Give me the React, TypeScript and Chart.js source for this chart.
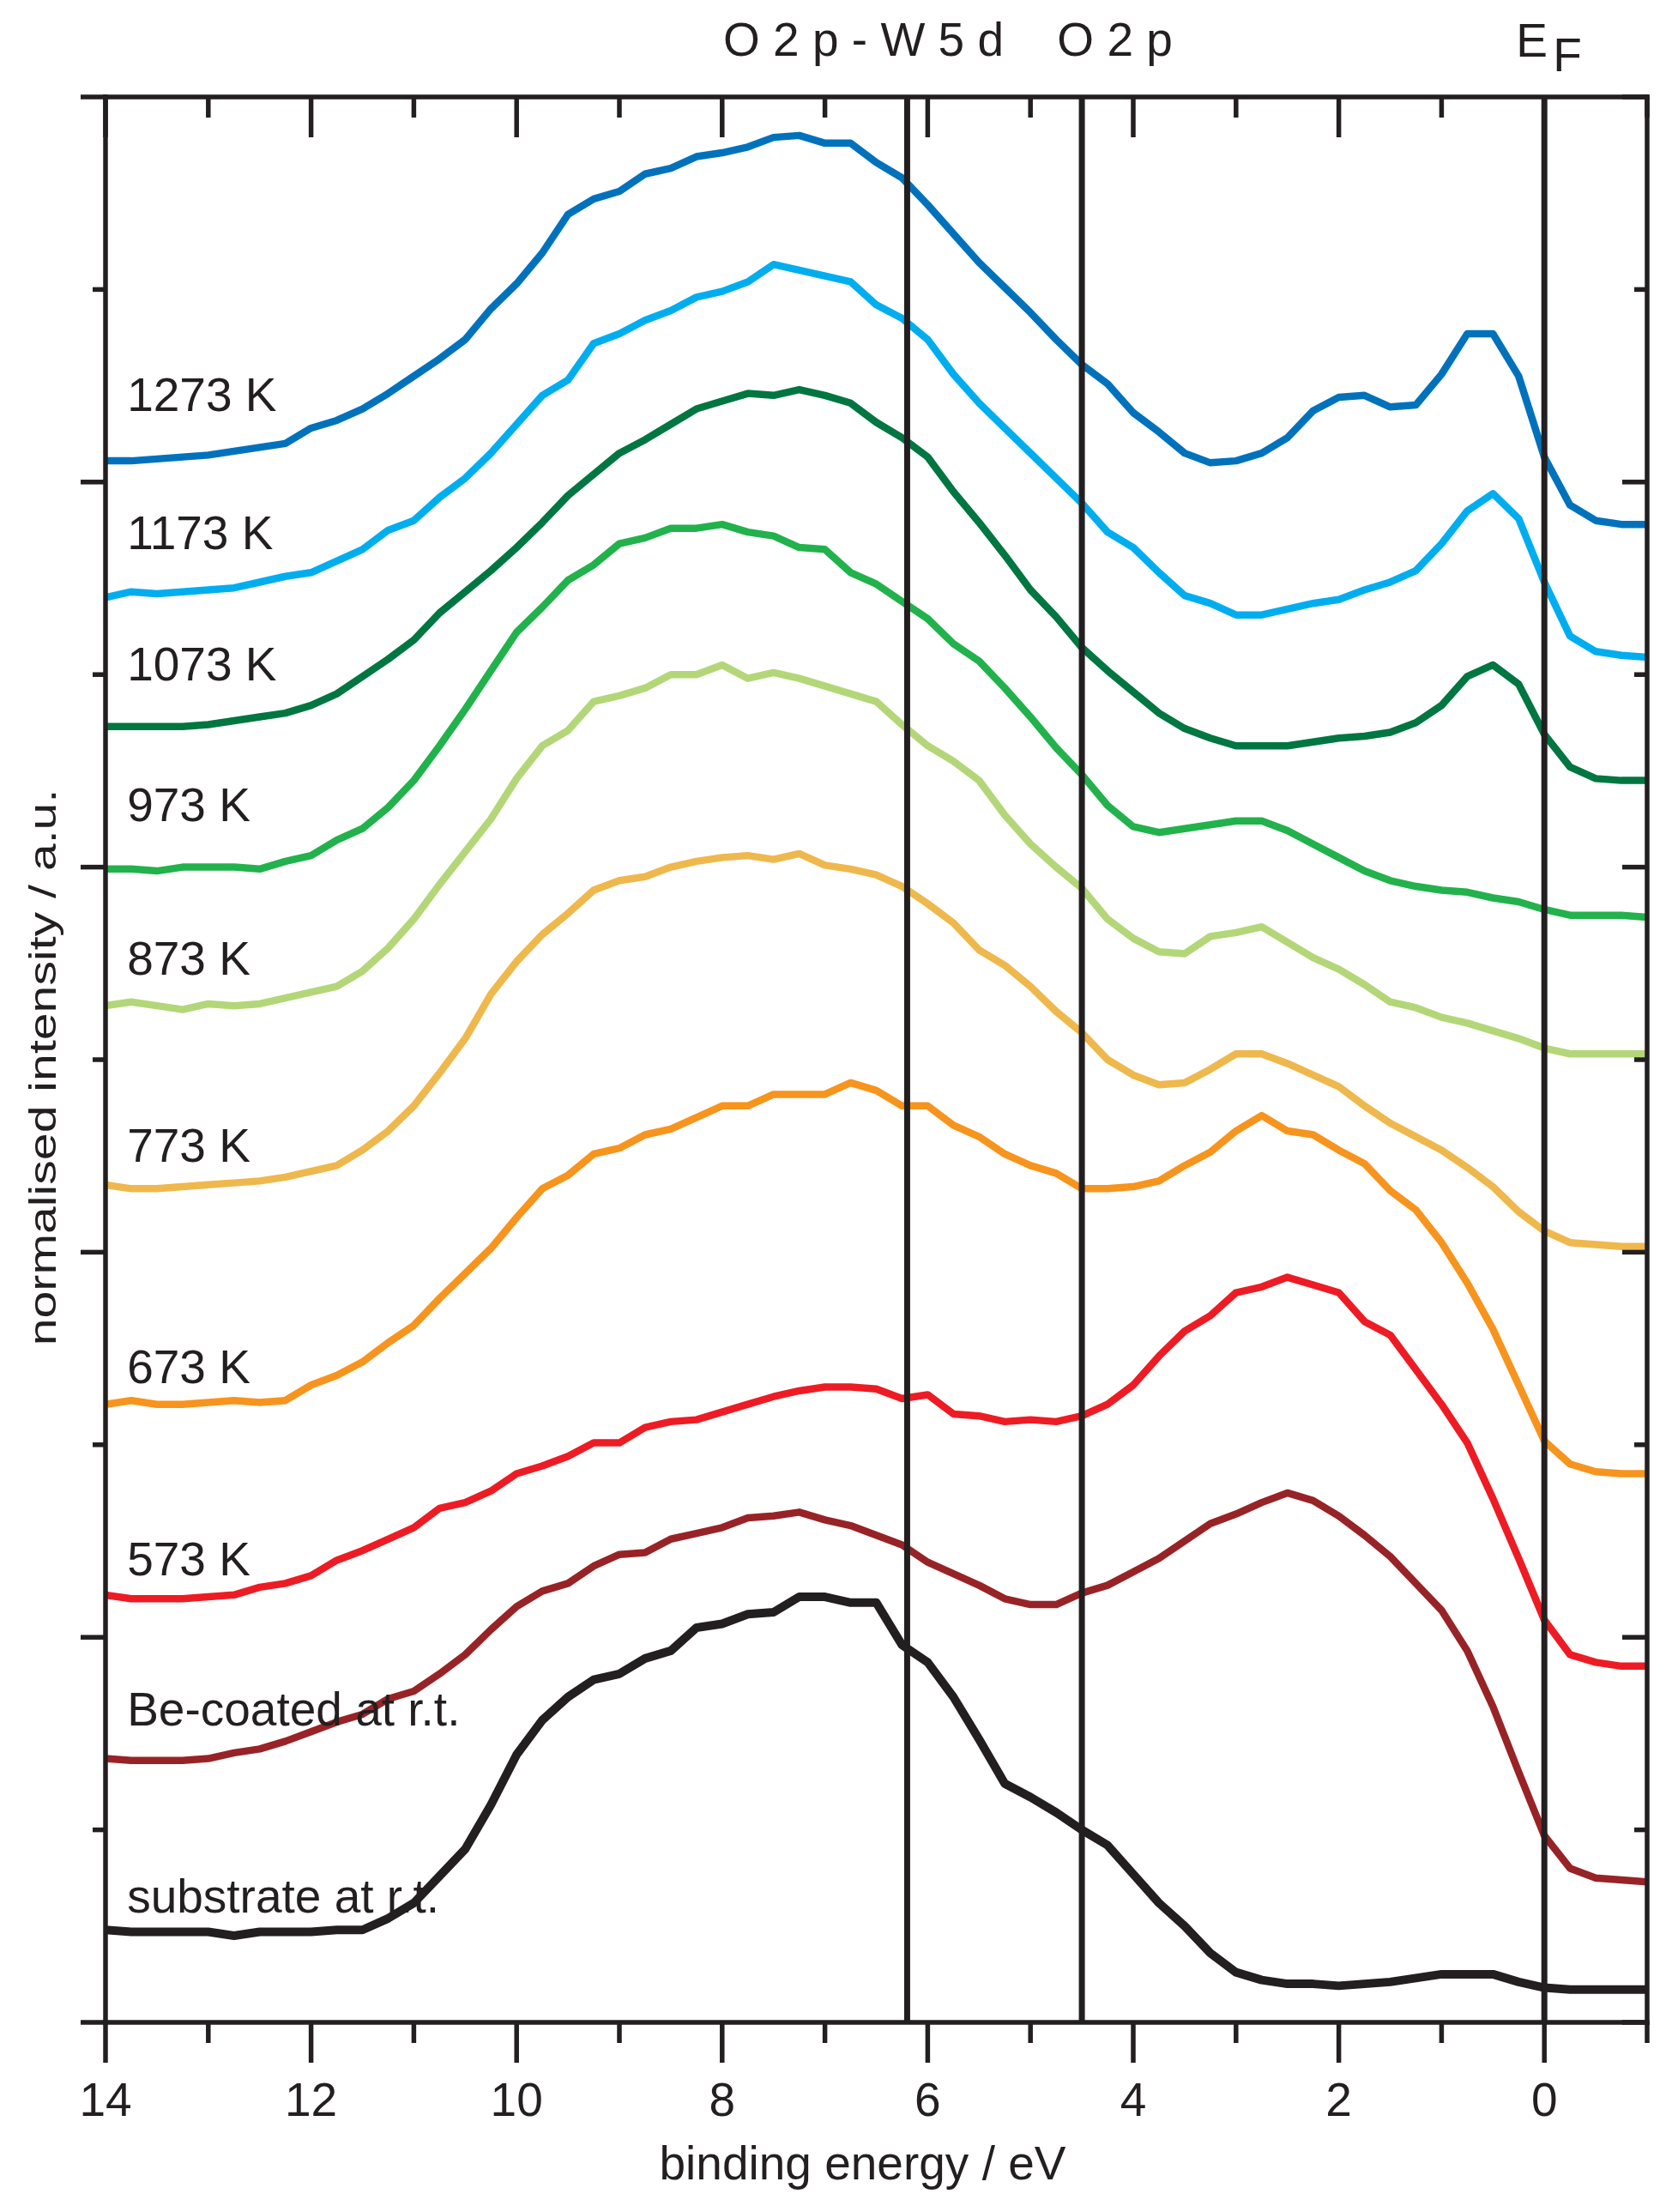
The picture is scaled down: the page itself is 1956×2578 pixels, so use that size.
import { useEffect, useRef } from 'react'
import { Chart, registerables } from 'chart.js'

Chart.register(...registerables)

const INK = '#231f20'
const FONT = '"Liberation Sans", Arial, sans-serif'

// binding energy grid (eV)
const energies = [
  14, 13.75, 13.5, 13.25, 13, 12.75, 12.5, 12.25, 12, 11.75, 11.5, 11.25, 11, 10.75, 10.5, 10.25,
  10, 9.75, 9.5, 9.25, 9, 8.75, 8.5, 8.25, 8, 7.75, 7.5, 7.25, 7, 6.75, 6.5, 6.25,
  6, 5.75, 5.5, 5.25, 5, 4.75, 4.5, 4.25, 4, 3.75, 3.5, 3.25, 3, 2.75, 2.5, 2.25,
  2, 1.75, 1.5, 1.25, 1, 0.75, 0.5, 0.25, 0, -0.25, -0.5, -0.75, -1,
]

// normalised intensity (offset), one array per spectrum
const k1273 = [
  8.11, 8.11, 8.12, 8.13, 8.14, 8.16, 8.18, 8.2, 8.28, 8.32, 8.38, 8.46, 8.55, 8.64, 8.74, 8.9,
  9.03, 9.19, 9.39, 9.47, 9.51, 9.6, 9.63, 9.69, 9.71, 9.74, 9.79, 9.8, 9.76, 9.76, 9.66, 9.58,
  9.44, 9.29, 9.14, 9.01, 8.88, 8.74, 8.61, 8.51, 8.36, 8.26, 8.15, 8.1, 8.11, 8.15, 8.23, 8.37,
  8.44, 8.45, 8.39, 8.4, 8.56, 8.77, 8.77, 8.55, 8.13, 7.88, 7.8, 7.78, 7.78,
]
const k1173 = [
  7.4, 7.43, 7.42, 7.43, 7.44, 7.45, 7.48, 7.51, 7.53, 7.59, 7.65, 7.75, 7.8, 7.92, 8.02, 8.15,
  8.3, 8.45, 8.53, 8.72, 8.77, 8.84, 8.89, 8.96, 8.99, 9.04, 9.13, 9.1, 9.07, 9.04, 8.92, 8.85,
  8.74, 8.56, 8.41, 8.28, 8.15, 8.02, 7.89, 7.74, 7.66, 7.53, 7.41, 7.37, 7.31, 7.31, 7.34, 7.37,
  7.39, 7.44, 7.48, 7.54, 7.68, 7.85, 7.94, 7.81, 7.48, 7.2, 7.12, 7.1, 7.09,
]
const k1073 = [
  6.73, 6.73, 6.73, 6.73, 6.74, 6.76, 6.78, 6.8, 6.84, 6.9, 6.99, 7.08, 7.18, 7.32, 7.43, 7.54,
  7.66, 7.79, 7.93, 8.04, 8.15, 8.22, 8.3, 8.38, 8.42, 8.46, 8.45, 8.48, 8.45, 8.41, 8.31, 8.23,
  8.13, 7.95, 7.79, 7.62, 7.44, 7.3, 7.14, 7.02, 6.91, 6.8, 6.72, 6.67, 6.63, 6.63, 6.63, 6.65,
  6.67, 6.68, 6.7, 6.75, 6.84, 6.99, 7.05, 6.95, 6.69, 6.52, 6.46, 6.45, 6.45,
]
const k973 = [
  5.99, 5.99, 5.98, 6.0, 6.0, 6.0, 5.99, 6.03, 6.06, 6.14, 6.2, 6.31, 6.45, 6.63, 6.82, 7.02,
  7.22, 7.35, 7.49, 7.57, 7.68, 7.71, 7.76, 7.76, 7.78, 7.74, 7.72, 7.66, 7.65, 7.53, 7.47, 7.38,
  7.29, 7.16, 7.07, 6.93, 6.78, 6.62, 6.48, 6.32, 6.21, 6.18, 6.2, 6.22, 6.24, 6.24, 6.19, 6.12,
  6.05, 5.98, 5.93, 5.9, 5.88, 5.87, 5.84, 5.82, 5.78, 5.75, 5.75, 5.75, 5.74,
]
const k873 = [
  5.28, 5.3, 5.28, 5.26, 5.29, 5.28, 5.29, 5.32, 5.35, 5.38, 5.46, 5.58, 5.73, 5.91, 6.08, 6.25,
  6.46, 6.63, 6.71, 6.86, 6.89, 6.93, 7.0, 7.0, 7.05, 6.98, 7.01, 6.98, 6.94, 6.9, 6.86, 6.74,
  6.63, 6.55, 6.45, 6.27, 6.12, 6.0, 5.89, 5.73, 5.63, 5.56, 5.55, 5.64, 5.66, 5.69, 5.61, 5.53,
  5.47, 5.39, 5.3, 5.27, 5.22, 5.19, 5.15, 5.11, 5.06, 5.03, 5.03, 5.03, 5.03,
]
const k773 = [
  4.35, 4.33, 4.33, 4.34, 4.35, 4.36, 4.37, 4.39, 4.42, 4.45, 4.53, 4.63, 4.76, 4.93, 5.11, 5.34,
  5.51, 5.65, 5.76, 5.88, 5.93, 5.95, 6.0, 6.03, 6.05, 6.06, 6.04, 6.07, 6.01, 5.99, 5.96, 5.9,
  5.81, 5.71, 5.57, 5.49, 5.38, 5.25, 5.14, 5.0, 4.92, 4.87, 4.88, 4.95, 5.03, 5.03, 4.98, 4.92,
  4.86, 4.76, 4.67, 4.6, 4.53, 4.44, 4.34, 4.21, 4.11, 4.05, 4.04, 4.03, 4.03,
]
const k673 = [
  3.21, 3.23, 3.21, 3.21, 3.22, 3.23, 3.22, 3.23, 3.31, 3.36, 3.43, 3.53, 3.62, 3.76, 3.89, 4.02,
  4.18, 4.33, 4.4, 4.51, 4.54, 4.61, 4.64, 4.7, 4.76, 4.76, 4.82, 4.82, 4.82, 4.88, 4.84, 4.76,
  4.76, 4.66, 4.6, 4.51, 4.45, 4.41, 4.33, 4.33, 4.34, 4.37, 4.45, 4.52, 4.63, 4.71, 4.63, 4.61,
  4.53, 4.46, 4.32, 4.22, 4.05, 3.84, 3.6, 3.31, 3.02, 2.9, 2.86, 2.85, 2.85,
]
const k573 = [
  2.22, 2.2, 2.2, 2.2, 2.21, 2.22, 2.26, 2.28, 2.32, 2.4, 2.45, 2.51, 2.57, 2.67, 2.7, 2.76,
  2.85, 2.89, 2.94, 3.01, 3.01, 3.09, 3.12, 3.13, 3.17, 3.21, 3.25, 3.28, 3.3, 3.3, 3.29, 3.24,
  3.26, 3.16, 3.15, 3.12, 3.13, 3.12, 3.15, 3.21, 3.31, 3.46, 3.59, 3.67, 3.79, 3.82, 3.87, 3.83,
  3.79, 3.64, 3.57, 3.39, 3.21, 3.01, 2.72, 2.41, 2.09, 1.91, 1.87, 1.85, 1.85,
]
const beCoated = [
  1.37, 1.36, 1.36, 1.36, 1.37, 1.4, 1.42, 1.46, 1.51, 1.56, 1.6, 1.68, 1.72, 1.81, 1.91, 2.04,
  2.16, 2.24, 2.28, 2.37, 2.43, 2.44, 2.51, 2.54, 2.57, 2.62, 2.63, 2.65, 2.61, 2.58, 2.53, 2.48,
  2.39, 2.33, 2.27, 2.2, 2.17, 2.17, 2.23, 2.27, 2.34, 2.41, 2.5, 2.59, 2.64, 2.7, 2.75, 2.71,
  2.63, 2.53, 2.42, 2.28, 2.14, 1.93, 1.64, 1.3, 0.97, 0.8, 0.75, 0.74, 0.73,
]
const substrate = [
  0.48, 0.47, 0.47, 0.47, 0.47, 0.45, 0.47, 0.47, 0.47, 0.48, 0.48, 0.54, 0.62, 0.76, 0.9, 1.13,
  1.39, 1.57, 1.69, 1.78, 1.81, 1.89, 1.93, 2.05, 2.07, 2.12, 2.13, 2.21, 2.21, 2.18, 2.18, 1.96,
  1.87, 1.69, 1.47, 1.24, 1.17, 1.09, 1.0, 0.92, 0.77, 0.62, 0.5, 0.36, 0.26, 0.22, 0.2, 0.2,
  0.19, 0.2, 0.21, 0.23, 0.25, 0.25, 0.25, 0.21, 0.18, 0.17, 0.17, 0.17, 0.17,
]

const seriesNames = [
  '1273 K', '1173 K', '1073 K', '973 K', '873 K', '773 K', '673 K', '573 K',
  'Be-coated at r.t.', 'substrate at r.t.',
]
const seriesValues = [k1273, k1173, k1073, k973, k873, k773, k673, k573, beCoated, substrate]
const seriesColors = [
  '#0072bc', '#00aeef', '#007640', '#22b24c', '#b3d778', '#efb84c', '#f7941d', '#ed1c24',
  '#982326', INK,
]
// where each curve's name sits (intensity units, at the left of the plot)
const nameHeights = [8.37, 7.65, 6.97, 6.24, 5.44, 4.47, 3.32, 2.32, 1.54, 0.57]
const nameEnergy = 13.79

const xTickValues = [14, 12, 10, 8, 6, 4, 2, 0]
const markerEnergies = [6.2, 4.5, 0]
const markerTitles = [
  { text: 'O 2 p - W 5 d', at: 7.99 },
  { text: 'O 2 p', at: 4.74 },
]
const fermiAt = 0.275

const frame = {
  id: 'frame',
  afterDatasetsDraw(chart: any) {
    const { ctx, chartArea, scales } = chart
    const { left, right, top, bottom } = chartArea
    const x = scales.x
    const y = scales.y
    const seg = (x1: number, y1: number, x2: number, y2: number) => {
      ctx.beginPath()
      ctx.moveTo(x1, y1)
      ctx.lineTo(x2, y2)
      ctx.stroke()
    }
    ctx.save()
    ctx.strokeStyle = INK
    ctx.fillStyle = INK

    ctx.lineWidth = 7
    markerEnergies.forEach((e) => {
      const px = x.getPixelForValue(e)
      seg(px, top, px, bottom)
    })

    ctx.lineWidth = 5.5
    for (let e = Math.ceil(x.min); e <= x.max; e++) {
      const px = x.getPixelForValue(e)
      const len = e % 2 === 0 ? 47 : 24
      seg(px, bottom, px, bottom + len)
      seg(px, top, px, top + len)
    }
    for (let v = y.min; v <= y.max; v++) {
      const py = y.getPixelForValue(v)
      const len = v % 2 === 0 ? 29 : 15
      seg(left - len, py, left, py)
      seg(right - len, py, right, py)
    }
    ctx.lineCap = 'square'
    seg(left, top, right, top)
    seg(left, bottom, right, bottom)
    seg(left, top, left, bottom)
    seg(right, top, right, bottom)

    ctx.font = `55px ${FONT}`
    ctx.textAlign = 'left'
    ctx.textBaseline = 'alphabetic'
    seriesNames.forEach((name, i) => {
      ctx.fillText(name, x.getPixelForValue(nameEnergy), y.getPixelForValue(nameHeights[i]))
    })
    markerTitles.forEach((m) => ctx.fillText(m.text, x.getPixelForValue(m.at), 65))
    const ef = x.getPixelForValue(fermiAt)
    ctx.fillText('E', ef, 66)
    ctx.fillText('F', ef + 43, 83)

    ctx.textAlign = 'center'
    ctx.fillText('binding energy / eV', (left + right) / 2 - 16, 2540)

    ctx.save()
    ctx.translate(65, (top + bottom) / 2 + 9)
    ctx.rotate(-Math.PI / 2)
    ctx.scale(1.3, 1)
    ctx.font = `44px ${FONT}`
    ctx.fillText('normalised intensity / a.u.', 0, 0)
    ctx.restore()

    ctx.restore()
  },
}

export default function App() {
  const canvasRef = useRef<HTMLCanvasElement>(null)
  const chartRef = useRef<Chart | null>(null)

  useEffect(() => {
    if (!canvasRef.current) return
    chartRef.current?.destroy()

    chartRef.current = new Chart(canvasRef.current, {
      type: 'line',
      data: {
        datasets: seriesNames.map((name, i) => ({
          label: name,
          data: energies.map((e, j) => ({ x: e, y: seriesValues[i][j] })),
          borderColor: seriesColors[i],
          borderWidth: i === seriesNames.length - 1 ? 10 : 8.5,
          borderJoinStyle: 'round' as const,
          pointRadius: 0,
          tension: 0,
          fill: false,
        })),
      },
      options: {
        responsive: true,
        maintainAspectRatio: false,
        animation: false,
        events: [],
        layout: { padding: { top: 113, right: 36, left: 0, bottom: 0 } },
        plugins: {
          legend: { display: false },
          tooltip: { enabled: false },
        },
        scales: {
          x: {
            type: 'linear',
            position: 'bottom',
            min: -1,
            max: 14,
            reverse: true,
            afterBuildTicks: (axis: any) => {
              axis.ticks = xTickValues.map((v) => ({ value: v }))
            },
            afterFit: (axis: any) => {
              axis.height = 221
            },
            grid: { display: false, drawTicks: false },
            border: { display: false },
            ticks: {
              color: INK,
              font: { family: FONT, size: 55 },
              padding: 61,
              maxRotation: 0,
              autoSkip: false,
            },
          },
          y: {
            type: 'linear',
            position: 'left',
            min: 0,
            max: 10,
            afterFit: (axis: any) => {
              axis.width = 123
            },
            grid: { display: false, drawTicks: false },
            border: { display: false },
            ticks: { display: false },
          },
        },
      },
      plugins: [frame],
    })

    return () => {
      chartRef.current?.destroy()
      chartRef.current = null
    }
  }, [])

  return (
    <div style={{ position: 'absolute', left: 0, top: 0, width: 1956, height: 2578, background: '#fff' }}>
      <canvas ref={canvasRef}></canvas>
    </div>
  )
}
